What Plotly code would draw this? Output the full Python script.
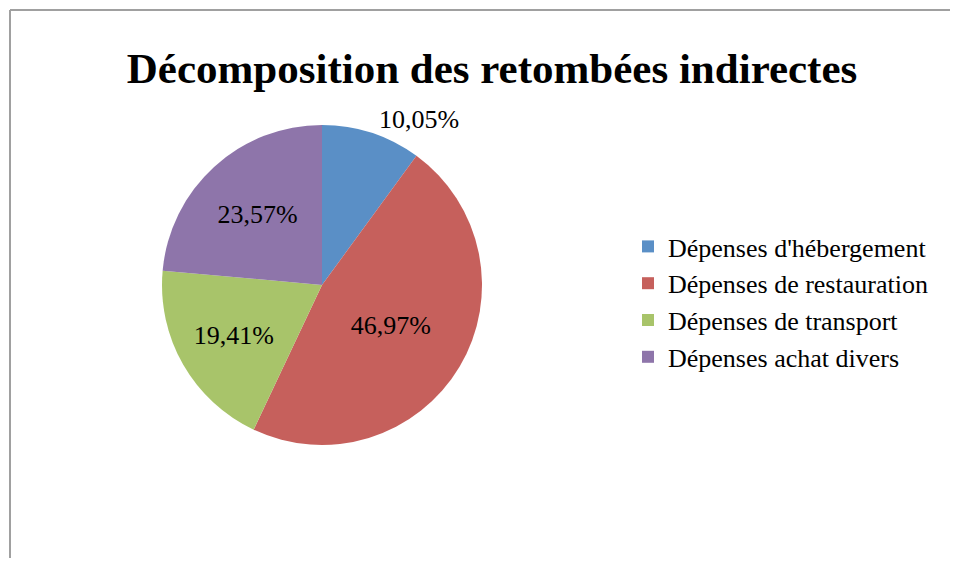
import plotly.graph_objects as go

# Page body has an 8px default margin; size the figure so the page never scrolls.
OFF = 8
W, H = 942, 550


def px(x):
    return (x - OFF) / W


def py(y):
    return 1 - (y - OFF) / H


title_text = "Décomposition des retombées indirectes"
categories = [
    "Dépenses d'hébergement",
    "Dépenses de restauration",
    "Dépenses de transport",
    "Dépenses achat divers",
]
shares = [10.05, 46.97, 19.41, 23.57]
colors = ["#5A8FC6", "#C6605C", "#A8C46A", "#8E75AA"]
text_positions = ["outside", "inside", "inside", "inside"]

FONT = "Liberation Serif, Times New Roman, serif"

cx, cy, r = 322, 285, 160

fig = go.Figure(
    go.Pie(
        labels=categories,
        values=shares,
        sort=False,
        direction="clockwise",
        rotation=0,
        marker=dict(colors=colors, line=dict(width=0)),
        texttemplate="%{value:.2f}%",
        textposition=text_positions,
        insidetextorientation="horizontal",
        textfont=dict(family=FONT, size=26, color="black"),
        domain=dict(
            x=[px(cx - r), px(cx + r)],
            y=[py(cy + r), py(cy - r)],
        ),
        showlegend=True,
        hoverinfo="label+percent",
    )
)

fig.update_layout(
    width=W,
    height=H,
    margin=dict(l=0, r=0, t=0, b=0, autoexpand=False),
    paper_bgcolor="white",
    plot_bgcolor="white",
    separators=", ",
    font=dict(family=FONT, color="black"),
    title=dict(
        text="<b>" + title_text + "</b>",
        x=px(492),
        xanchor="center",
        y=py(68),
        yanchor="middle",
        font=dict(family=FONT, size=43, color="black"),
    ),
    legend=dict(
        x=px(628),
        xanchor="left",
        y=py(302),
        yanchor="middle",
        font=dict(family=FONT, size=26, color="black"),
        bgcolor="rgba(0,0,0,0)",
    ),
    shapes=[
        dict(type="line", xref="paper", yref="paper",
             x0=px(10), x1=1.05, y0=py(10), y1=py(10),
             line=dict(color="#A0A0A0", width=2)),
        dict(type="line", xref="paper", yref="paper",
             x0=px(10), x1=px(10), y0=py(10), y1=-0.05,
             line=dict(color="#A0A0A0", width=2)),
    ],
)

fig.write_html("out.html")
